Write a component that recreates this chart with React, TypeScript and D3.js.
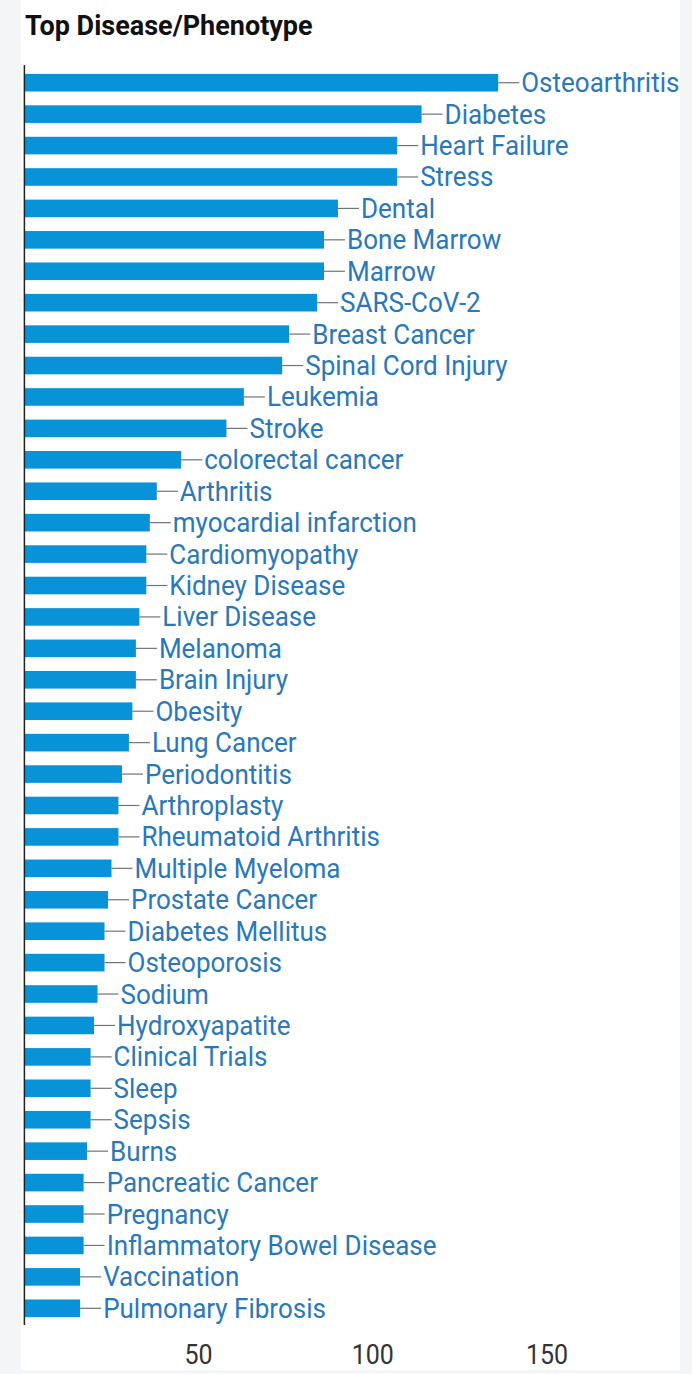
import * as d3 from 'd3';

const categories = [
  'Osteoarthritis', 'Diabetes', 'Heart Failure', 'Stress', 'Dental', 'Bone Marrow', 'Marrow',
  'SARS-CoV-2', 'Breast Cancer', 'Spinal Cord Injury', 'Leukemia', 'Stroke', 'colorectal cancer',
  'Arthritis', 'myocardial infarction', 'Cardiomyopathy', 'Kidney Disease', 'Liver Disease',
  'Melanoma', 'Brain Injury', 'Obesity', 'Lung Cancer', 'Periodontitis', 'Arthroplasty',
  'Rheumatoid Arthritis', 'Multiple Myeloma', 'Prostate Cancer', 'Diabetes Mellitus',
  'Osteoporosis', 'Sodium', 'Hydroxyapatite', 'Clinical Trials', 'Sleep', 'Sepsis', 'Burns',
  'Pancreatic Cancer', 'Pregnancy', 'Inflammatory Bowel Disease', 'Vaccination', 'Pulmonary Fibrosis',
];

const counts = [
  136, 114, 107, 107, 90, 86, 86, 84, 76, 74, 63, 58, 45, 38, 36, 35, 35, 33, 32, 32, 31, 30, 28,
  27, 27, 25, 24, 23, 23, 21, 20, 19, 19, 19, 18, 17, 17, 17, 16, 16,
];

const xTicks = [50, 100, 150];

const width = 692;
const height = 1374;

const App = () => {
  const x = d3.scaleLinear().domain([0, 150]).range([24.4, 547]);
  const y = d3
    .scaleBand()
    .domain(categories)
    .range([67, 1324])
    .paddingInner(0.44)
    .paddingOuter(0.22);

  const bw = y.bandwidth();

  return (
    <svg
      width={width}
      height={height}
      style={{ position: 'absolute', left: 0, top: 0, display: 'block' }}
      fontFamily="Roboto, 'Liberation Sans', sans-serif"
    >
      <rect x={0} y={0} width={width} height={height} fill="#f3f5f7" />
      <rect x={21} y={0} width={659} height={1370} fill="#ffffff" />

      <text x={25} y={35} fontSize={27} fontWeight="bold" fill="#111">
        Top Disease/Phenotype
      </text>

      {categories.map((c, i) => {
        const yc = y(c) + bw / 2;
        const end = x(counts[i]);
        return (
          <g key={c}>
            <rect x={x(0)} y={y(c)} width={end - x(0)} height={bw} fill="#0893d8" />
            <line x1={end} x2={end + 21} y1={yc} y2={yc} stroke="#6f7478" strokeWidth={1.2} />
            <text
              transform={`translate(${end + 23},${yc + 9.5}) scale(1,1.06)`}
              fontSize={26}
              fill="#2a78b8"
            >
              {c}
            </text>
          </g>
        );
      })}

      <line x1={x(0)} x2={x(0)} y1={65} y2={1325} stroke="#222" strokeWidth={1.5} />

      {xTicks.map((t) => (
        <text
          key={t}
          transform={`translate(${x(t)},1364) scale(1,1.1)`}
          fontSize={25}
          fill="#333"
          textAnchor="middle"
        >
          {t}
        </text>
      ))}
    </svg>
  );
};

export default App;
